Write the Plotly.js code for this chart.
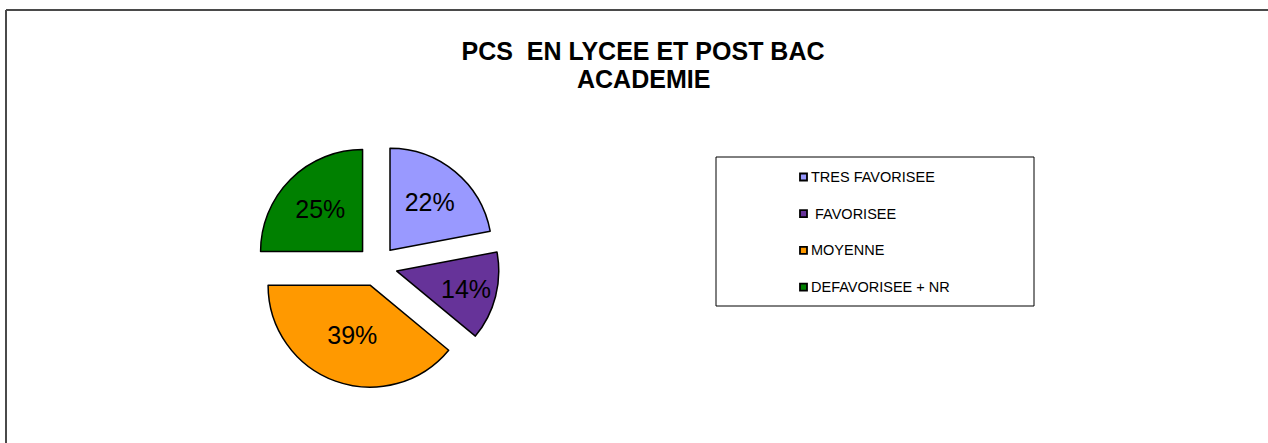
<!DOCTYPE html>
<html>
<head>
<meta charset="utf-8">
<script src="https://cdn.plot.ly/plotly-3.0.1.min.js"></script>
<style>
  html, body { margin: 0; padding: 0; background: #fff; }
  #chart { width: 1268px; height: 443px; }
</style>
</head>
<body>
<div id="chart"></div>
<script>
// ---- Data ----
const categories = ["TRES FAVORISEE", "\u00A0FAVORISEE", "MOYENNE", "DEFAVORISEE + NR"];
const values = [22, 14, 39, 25];
const colors = ["#9999FF", "#663399", "#FF9900", "#008000"];
const titleLines = ["PCS\u00A0 EN LYCEE ET POST BAC", "ACADEMIE"];

// ---- Layout helpers (pixel -> paper) ----
const W = 1268, H = 443;
const px = x => x / W;
const py = y => 1 - y / H;
const FONT = "Liberation Sans, Arial, sans-serif";

// pie geometry
const cx = 377, cy = 266, r = 102, pull = 0.2;
const half = r * (1 + pull);

const trace = {
  type: "pie",
  labels: categories,
  values: values,
  sort: false,
  direction: "clockwise",
  rotation: 0,
  pull: pull,
  marker: { colors: colors, line: { color: "#000", width: 1.5 } },
  textinfo: "percent",
  textposition: "inside",
  insidetextorientation: "horizontal",
  textfont: { family: FONT, size: 25, color: "#000" },
  hoverinfo: "label+percent",
  showlegend: false,
  domain: { x: [px(cx - half), px(cx + half)], y: [py(cy + half), py(cy - half)] }
};

// custom legend + frame
const shapes = [
  { type: "line", xref: "paper", yref: "paper", x0: px(6), x1: px(1268), y0: py(10), y1: py(10), line: { color: "#4a4a4a", width: 2 } },
  { type: "line", xref: "paper", yref: "paper", x0: px(6), x1: px(6), y0: py(10), y1: py(443), line: { color: "#4a4a4a", width: 2 } },
  { type: "rect", xref: "paper", yref: "paper", x0: px(716), x1: px(1034), y0: py(306), y1: py(157), line: { color: "#000", width: 1 }, fillcolor: "rgba(0,0,0,0)" }
];
const annotations = [];
const legY0 = 177, legDy = 36.7;
categories.forEach((c, i) => {
  const y = legY0 + i * legDy;
  shapes.push({ type: "rect", xref: "paper", yref: "paper", x0: px(800), x1: px(807), y0: py(y + 3.5), y1: py(y - 3.5), line: { color: "#000", width: 1.8 }, fillcolor: colors[i] });
  annotations.push({ xref: "paper", yref: "paper", x: px(809), y: py(y), xanchor: "left", yanchor: "middle", showarrow: false, text: c, font: { family: FONT, size: 14.5, color: "#000" } });
});

// second title line
const titleFont = { family: FONT, size: 25, color: "#000", weight: "bold" };
annotations.push({ xref: "paper", yref: "paper", x: px(643), y: py(79), xanchor: "center", yanchor: "middle", showarrow: false, text: titleLines[1], font: titleFont });

const layout = {
  width: W, height: H,
  margin: { l: 0, r: 0, t: 0, b: 0 },
  paper_bgcolor: "#fff",
  title: {
    text: titleLines[0],
    font: titleFont,
    x: px(643), xanchor: "center",
    y: py(51), yanchor: "middle", yref: "container"
  },
  shapes: shapes,
  annotations: annotations,
  showlegend: false
};

Plotly.newPlot("chart", [trace], layout, { displayModeBar: false });
</script>
</body>
</html>
